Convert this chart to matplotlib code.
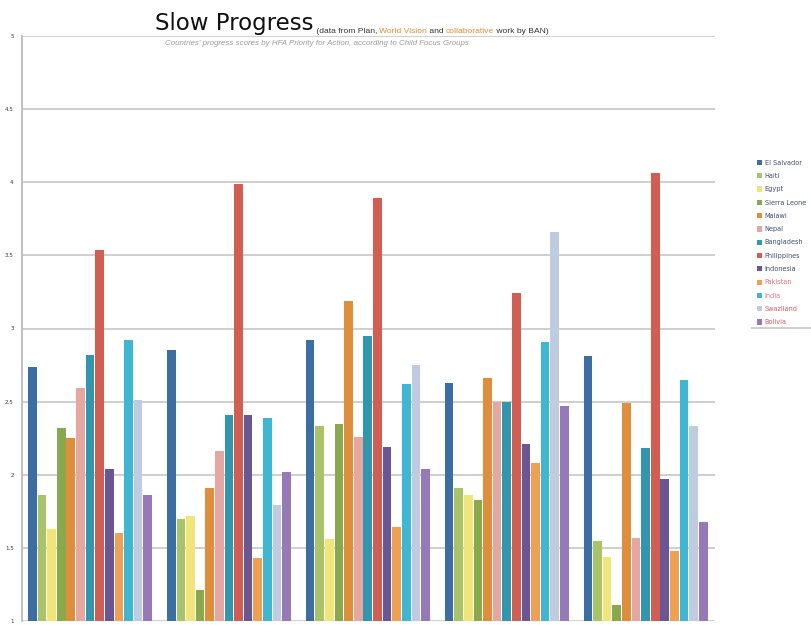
import numpy as np
import matplotlib
matplotlib.use('Agg')
import matplotlib.pyplot as plt
from matplotlib.ticker import FormatStrFormatter

# five HFA priorities for action (no labels shown on the chart)
priorities = ['Priority 1', 'Priority 2', 'Priority 3', 'Priority 4', 'Priority 5']

countries = ['El Salvador', 'Haiti', 'Egypt', 'Sierra Leone', 'Malawi', 'Nepal', 'Bangladesh',
             'Philippines', 'Indonesia', 'Pakistan', 'India', 'Swaziland', 'Bolivia']

el_salvador = [2.74, 2.85, 2.92, 2.63, 2.81]
haiti = [1.86, 1.70, 2.33, 1.91, 1.55]
egypt = [1.63, 1.72, 1.56, 1.86, 1.44]
sierra_leone = [2.32, 1.21, 2.35, 1.83, 1.11]
malawi = [2.25, 1.91, 3.19, 2.66, 2.49]
nepal = [2.59, 2.16, 2.26, 2.50, 1.57]
bangladesh = [2.82, 2.41, 2.95, 2.50, 2.18]
philippines = [3.54, 3.99, 3.89, 3.24, 4.06]
indonesia = [2.04, 2.41, 2.19, 2.21, 1.97]
pakistan = [1.60, 1.43, 1.64, 2.08, 1.48]
india = [2.92, 2.39, 2.62, 2.91, 2.65]
swaziland = [2.51, 1.79, 2.75, 3.66, 2.33]
bolivia = [1.86, 2.02, 2.04, 2.47, 1.68]

scores = [el_salvador, haiti, egypt, sierra_leone, malawi, nepal, bangladesh,
          philippines, indonesia, pakistan, india, swaziland, bolivia]

colors = ['#3c6ea6', '#a9c466', '#f0e678', '#88a94e', '#e08e3a', '#e7a6a0', '#2f98ae',
          '#d45d52', '#6a5595', '#f0a04e', '#3db8d4', '#bfcbe0', '#9778b8']
# legend text colours (last entries are reddish in the original)
label_colors = ['#3d4a78'] * 9 + ['#e0707a', '#e07a8a', '#d85a60', '#d85a60']

y_ticks = [1, 1.5, 2, 2.5, 3, 3.5, 4, 4.5, 5]

fig = plt.figure(figsize=(8.12, 6.25), dpi=100)
ax = fig.add_axes([22 / 812, 1 - 621 / 625, (715 - 22) / 812, (621 - 36) / 625])

n = len(countries)
x = np.arange(len(priorities))
slot = 0.9 / n
for i in range(n):
    ax.bar(x - 0.45 + slot * (i + 0.5), scores[i], width=slot * 0.9,
           color=colors[i], label=countries[i], zorder=3)

ax.set_ylim(1, 5)
ax.set_xlim(-0.49, 4.5)
ax.set_yticks(y_ticks)
ax.yaxis.set_major_formatter(FormatStrFormatter('%g'))
ax.tick_params(axis='y', labelsize=4, length=0, pad=6, labelcolor='#333333')
ax.set_xticks([])
ax.grid(axis='y', color='#cccccc', linewidth=1.3, zorder=0)
for s in ['top', 'right', 'bottom']:
    ax.spines[s].set_visible(False)
ax.spines['left'].set_color('#bbbbbb')
ax.spines['left'].set_linewidth(1.3)

# title with small coloured source note
title = fig.text(155 / 812, 1 - 30 / 625, 'Slow Progress', fontsize=16.5,
                 family='DejaVu Sans', va='baseline', color='#111111')
parts = [(' (data from Plan, ', '#333333'), ('World Vision', '#e8892a'),
         (' and ', '#333333'), ('collaborative', '#e8892a'), (' work by BAN)', '#333333')]
prev = title
for txt, c in parts:
    prev = ax.annotate(txt, xy=(1, 0), xycoords=prev, va='bottom', ha='left',
                       fontsize=6.1, color=c, family='Liberation Sans')
fig.text(165 / 812, 1 - 45 / 625,
         "Countries' progress scores by HFA Priority for Action, according to Child Focus Groups",
         fontsize=5.7, style='italic', color='#999999', family='Liberation Sans')

leg = fig.legend(loc='upper left', bbox_to_anchor=(754 / 812, 1 - 157 / 625), frameon=False,
                 fontsize=4.7, handlelength=0.85, handleheight=0.85, handletextpad=0.4,
                 labelspacing=1.12, borderaxespad=0)
for t, c in zip(leg.get_texts(), label_colors):
    t.set_color(c)
fig.add_artist(plt.Line2D([752 / 812, 1.0], [1 - 328 / 625] * 2, color='#cccccc', linewidth=1.3))

fig.savefig('out.png', dpi=100)
